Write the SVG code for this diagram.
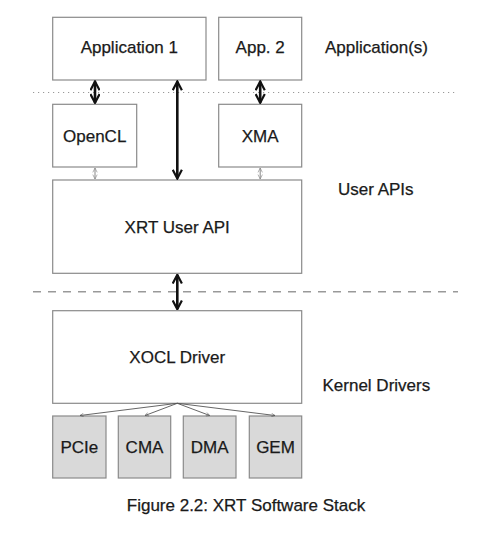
<svg xmlns="http://www.w3.org/2000/svg" width="492" height="544" viewBox="0 0 492 544">
<style>
.box{fill:#fff;stroke:#8a8a8a;stroke-width:1.2}
.sub{fill:#d9d9d9;stroke:#8a8a8a;stroke-width:1.2}
text{font-family:"Liberation Sans",Arial,sans-serif;font-size:17px;fill:#1a1a1a;stroke:#1a1a1a;stroke-width:0.25;text-anchor:middle;dominant-baseline:central}
.lbl{text-anchor:start}
.thick{stroke:#111;stroke-width:2.6;fill:none}
.thin{stroke:#888;stroke-width:1;fill:none}
.fan{stroke:#555;stroke-width:0.9;fill:none}
</style>
<defs>
<marker id="ah" viewBox="0 0 10 10" refX="9" refY="5" markerWidth="4.2" markerHeight="4.2" orient="auto-start-reverse" markerUnits="strokeWidth">
<path d="M1,0.8 L9,5 L1,9.2" fill="none" stroke="#111" stroke-width="2"/>
</marker>
<marker id="ahs" viewBox="0 0 10 10" refX="9" refY="5" markerWidth="5.5" markerHeight="5.5" orient="auto-start-reverse" markerUnits="strokeWidth">
<path d="M1,1 L9,5 L1,9" fill="none" stroke="#888" stroke-width="1.2"/>
</marker>
<marker id="ahf" viewBox="0 0 10 10" refX="9" refY="5" markerWidth="5" markerHeight="5" orient="auto" markerUnits="strokeWidth">
<path d="M1,1 L9,5 L1,9" fill="none" stroke="#555" stroke-width="1.2"/>
</marker>
</defs>
<rect width="492" height="544" fill="#fff"/>
<g id="separators">
<line x1="33" y1="92.5" x2="456" y2="92.5" stroke="#999" stroke-width="1" stroke-dasharray="1.2 3.8"/>
<line x1="33" y1="291.7" x2="458" y2="291.7" stroke="#999" stroke-width="1.6" stroke-dasharray="8 7"/>
</g>
<g id="app1"><rect class="box" x="52.7" y="17.3" width="153.3" height="62.7"/><text x="129.3" y="47.5">Application 1</text></g>
<g id="app2"><rect class="box" x="218.7" y="17.3" width="83" height="62.7"/><text x="260.2" y="47.5">App. 2</text></g>
<g id="opencl"><rect class="box" x="52.7" y="104.3" width="84" height="62.7"/><text x="94.7" y="136">OpenCL</text></g>
<g id="xma"><rect class="box" x="218.7" y="104.3" width="83" height="62.7"/><text x="260.2" y="136">XMA</text></g>
<g id="xrt"><rect class="box" x="52.7" y="180" width="249" height="93.3"/><text x="177.2" y="227">XRT User API</text></g>
<g id="xocl"><rect class="box" x="52.7" y="310.7" width="249" height="92.6"/><text x="177.2" y="357.5">XOCL Driver</text></g>
<g id="pcie"><rect class="sub" x="52.7" y="416" width="53.3" height="62"/><text x="79.3" y="447.5">PCIe</text></g>
<g id="cma"><rect class="sub" x="118.3" y="416" width="52.4" height="62"/><text x="144.5" y="447.5">CMA</text></g>
<g id="dma"><rect class="sub" x="183.3" y="416" width="52.7" height="62"/><text x="209.7" y="447.5">DMA</text></g>
<g id="gem"><rect class="sub" x="249.3" y="416" width="52.4" height="62"/><text x="275.5" y="447.5">GEM</text></g>
<g id="labels">
<text class="lbl" x="325" y="47.5">Application(s)</text>
<text class="lbl" x="338" y="189">User APIs</text>
<text class="lbl" x="322.5" y="385.5">Kernel Drivers</text>
<text x="246" y="505">Figure 2.2: XRT Software Stack</text>
</g>
<g id="connectors">
<line class="thick" x1="95" y1="81.5" x2="95" y2="102.8" marker-start="url(#ah)" marker-end="url(#ah)"/>
<line class="thick" x1="260.2" y1="81.5" x2="260.2" y2="102.8" marker-start="url(#ah)" marker-end="url(#ah)"/>
<line class="thick" x1="177.3" y1="81.5" x2="177.3" y2="178.5" marker-start="url(#ah)" marker-end="url(#ah)"/>
<line class="thick" x1="177.3" y1="274.8" x2="177.3" y2="309.2" marker-start="url(#ah)" marker-end="url(#ah)"/>
<line class="thin" x1="95" y1="168" x2="95" y2="179" marker-start="url(#ahs)" marker-end="url(#ahs)"/>
<line class="thin" x1="260.2" y1="168" x2="260.2" y2="179" marker-start="url(#ahs)" marker-end="url(#ahs)"/>
<line class="fan" x1="177.3" y1="403.3" x2="80" y2="415.5" marker-end="url(#ahf)"/>
<line class="fan" x1="177.3" y1="403.3" x2="145" y2="415.5" marker-end="url(#ahf)"/>
<line class="fan" x1="177.3" y1="403.3" x2="209.7" y2="415.5" marker-end="url(#ahf)"/>
<line class="fan" x1="177.3" y1="403.3" x2="275" y2="415.5" marker-end="url(#ahf)"/>
</g>
</svg>
